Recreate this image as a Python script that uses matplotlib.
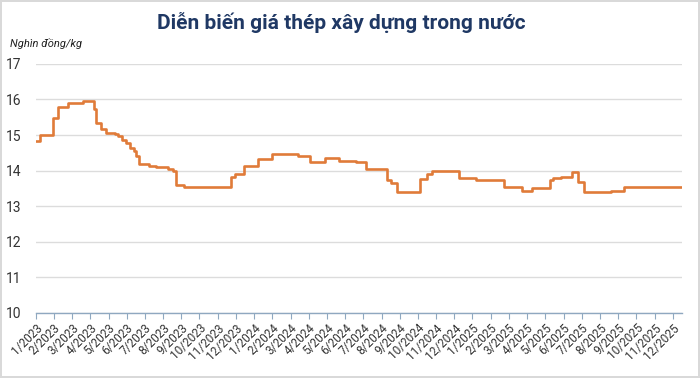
import numpy as np
import matplotlib
matplotlib.use("Agg")
import matplotlib.pyplot as plt

plt.rcParams["font.family"] = ["Roboto", "DejaVu Sans"]

# month labels (x position = month index from 1/2023)
month_labels = [f"{m}/{y}" for y in (2023, 2024, 2025) for m in range(1, 13)]

# step change points: month index -> price (nghìn đồng/kg)
step_x = [0.0, 0.22, 0.95, 1.22, 1.77, 2.59, 3.18, 3.33, 3.57, 3.84,
          4.33, 4.50, 4.76, 4.94, 5.16, 5.38, 5.52, 5.67, 6.25, 6.62,
          7.26, 7.53, 7.72, 8.17, 10.74, 10.95, 11.46, 12.19, 12.98, 14.39,
          15.07, 15.91, 16.68, 17.62, 18.17, 19.29, 19.54, 19.87, 21.12, 21.49,
          21.79, 23.26, 24.17, 25.73, 26.73, 27.28, 28.25, 28.41, 28.89, 29.47,
          29.80, 30.12, 31.63, 32.31, 35.47]
step_y = [14.84, 14.99, 15.47, 15.80, 15.91, 15.97, 15.73, 15.33, 15.17, 15.07,
          15.03, 14.98, 14.87, 14.77, 14.63, 14.54, 14.40, 14.19, 14.14, 14.09,
          14.04, 13.99, 13.60, 13.53, 13.83, 13.90, 14.12, 14.33, 14.46, 14.40,
          14.23, 14.36, 14.28, 14.23, 14.05, 13.74, 13.65, 13.40, 13.76, 13.90,
          14.00, 13.78, 13.74, 13.53, 13.43, 13.51, 13.74, 13.78, 13.81, 13.95,
          13.69, 13.40, 13.42, 13.54, 13.54]
y_ticks = [10, 11, 12, 13, 14, 15, 16, 17]

fig = plt.figure(figsize=(7, 3.78), dpi=100)
fig.patch.set_edgecolor("#d9d9d9")
fig.patch.set_linewidth(1.5)
ax = fig.add_axes([0.051, 0.172, 0.923, 0.659])

ax.step(step_x, step_y, where="post", color="#E07B39", linewidth=1.9)

ax.set_xlim(0, 35.5)
ax.set_ylim(10, 17)
ax.set_yticks(y_ticks)
ax.grid(axis="y", color="#dcdcdc", linewidth=1)
ax.set_axisbelow(True)

ax.set_xticks(np.arange(len(month_labels)))
ax.set_xticklabels(month_labels, rotation=45, ha="right", rotation_mode="anchor",
                   fontsize=8.5, color="#333333")
ax.tick_params(axis="x", length=4, color="#8fa8c0", pad=2)
ax.tick_params(axis="y", length=0, labelsize=10, colors="#333333", pad=10)

for s in ("top", "right", "left"):
    ax.spines[s].set_visible(False)
ax.spines["bottom"].set_color("#8fa8c0")
ax.spines["bottom"].set_linewidth(1)

fig.text(0.487, 0.94, "Diễn biến giá thép xây dựng trong nước", ha="center", va="center",
         fontsize=15, fontweight="bold", color="#1f3864")
fig.text(0.014, 0.885, "Nghìn đồng/kg", ha="left", va="center", fontsize=8,
         style="italic", color="#222222")

fig.savefig("out.png", dpi=100, edgecolor=fig.get_edgecolor())
